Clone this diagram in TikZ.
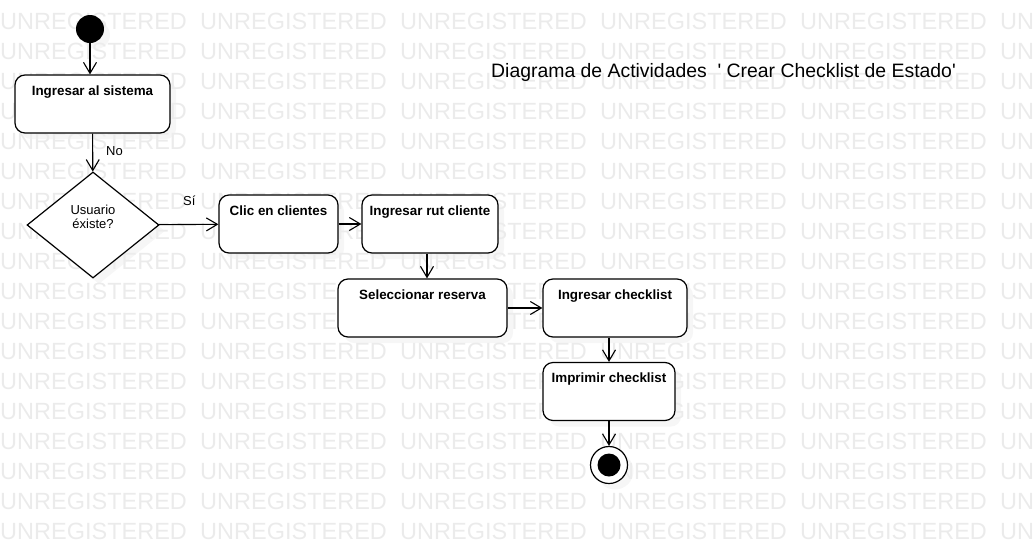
\documentclass[tikz,border=0pt]{standalone}
\usepackage{fontspec}
\setmainfont{Liberation Sans}
\newfontfamily\titlefont{Liberation Sans}[Ligatures=TeXOff]
\usepackage{tikz}
\usetikzlibrary{shadows,arrows.meta,shapes.geometric,positioning}
\tikzset{every shadow/.style={}}

\begin{document}
\begin{tikzpicture}[x=1pt, y=-1pt,
    wmark/.style={anchor=base west, inner sep=0pt, text=black!8, font=\fontsize{23.5}{26}\selectfont},
    shade/.style={drop shadow={fill=black!7, draw=none, shadow xshift=6pt, shadow yshift=-6pt}},
    actbox/.style={draw, rectangle, rounded corners=10pt, line width=1.2pt, fill=white, shade,
        inner xsep=0pt, inner ysep=0pt, text height=20pt, text depth=38pt, minimum width=#1,
        font=\fontsize{13.4}{15}\selectfont\bfseries},
    flow/.style={line width=1.1pt, -{Straight Barb[length=11pt, width=13pt]}},
    lbl/.style={anchor=base west, inner sep=0pt, font=\fontsize{13}{15}\selectfont}]
    \useasboundingbox (0,0) rectangle (1035,544);

    % Watermark behind everything
    \foreach \r in {0,...,17}
        \foreach \c in {0,...,5}
            \node[wmark] (wm-\r-\c) at (200*\c, 29+30*\r) {UNREGISTERED};

    % Title
    \node[anchor=base west, inner sep=0pt, font=\titlefont\fontsize{19.4}{22}\selectfont] (title) at (491,77) {Diagrama de Actividades \ ' Crear Checklist de Estado'};

    % Start and login
    \node[circle, fill=black, minimum size=28pt, inner sep=0pt, shade] (start) at (90,29) {};
    \node[actbox=155pt] (sistema) at (92.5,104) {Ingresar al sistema};
    \node[draw, diamond, aspect=1.245, minimum width=132pt, minimum height=106pt, inner sep=0pt, line width=1.2pt, fill=white, shade] (decision) at (93,225) {};
    \node[align=center, inner sep=0pt, font=\fontsize{13}{14}\selectfont] (question) at ([yshift=8pt]decision.center) {Usuario\\éxiste?};

    % Main flow
    \node[actbox=119pt] (clientes) at (278.5,224) {Clic en clientes};
    \node[actbox=136pt] (rut) at (430,224) {Ingresar rut cliente};
    \node[actbox=169pt] (reserva) at (422.5,308) {Seleccionar reserva};
    \node[actbox=144pt] (ingreso) at (615,308) {Ingresar checklist};
    \node[actbox=132pt] (imprimir) at (609,391.5) {Imprimir checklist};

    % End
    \node[circle, draw, line width=1.2pt, fill=white, minimum size=37pt, inner sep=0pt, shade] (final) at (609,465) {};
    \node[circle, fill=black, minimum size=23pt, inner sep=0pt] (finalcore) at (final) {};

    % Connectors
    \draw[flow] (start) -- (start |- sistema.north);
    \draw[flow] (sistema) -- (decision);
    \node[lbl] (nolbl) at (106,155) {No};
    \draw[flow] (decision) -- (clientes);
    \node[lbl] (silbl) at (183,205) {Sí};
    \draw[flow] (clientes) -- (rut);
    \draw[flow] ([xshift=-3pt]rut.south) -- ([xshift=-3pt]rut.south |- reserva.north);
    \draw[flow] (reserva) -- (ingreso);
    \draw[flow] (imprimir.north |- ingreso.south) -- (imprimir.north);
    \draw[flow] (imprimir) -- (final);
\end{tikzpicture}
\end{document}
